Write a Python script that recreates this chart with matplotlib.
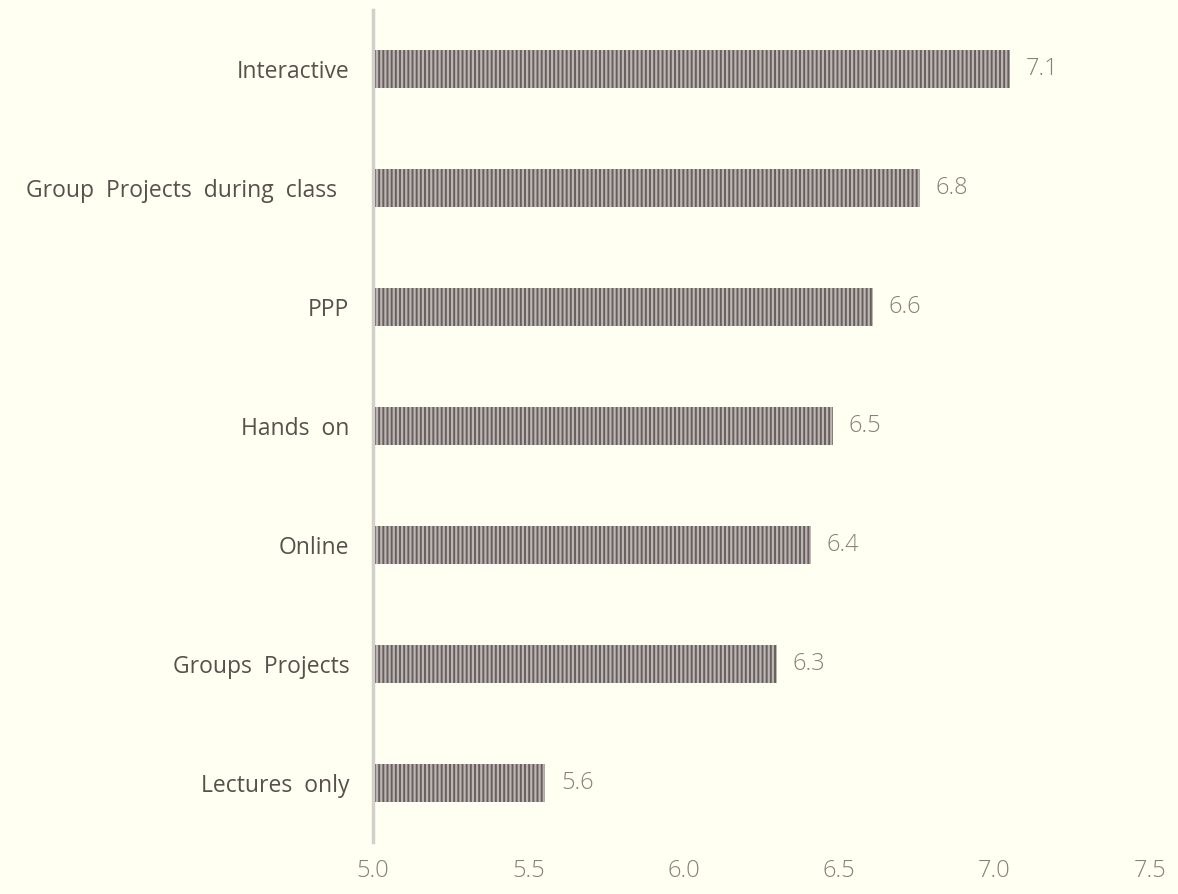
import matplotlib
matplotlib.use("Agg")
import matplotlib.pyplot as plt

categories = ["Lectures  only", "Groups  Projects", "Online", "Hands  on",
              "PPP", "Group  Projects  during  class  ", "Interactive"]
scores = [5.555, 6.30, 6.41, 6.48, 6.61, 6.76, 7.051]
xticks = [5.0, 5.5, 6.0, 6.5, 7.0, 7.5]

bg = "#fffff2"
label_col = "#57504c"
num_col = "#8a807b"

plt.rcParams["font.family"] = ["Open Sans", "DejaVu Sans"]
plt.rcParams["hatch.linewidth"] = 1.6
plt.rcParams["hatch.color"] = "#bcb5b2"

fig = plt.figure(figsize=(11.78, 8.94), dpi=100, facecolor=bg)
ax = fig.add_axes([0.3166, 0.058, 0.976 - 0.3166, 0.931])
ax.set_facecolor(bg)

ypos = range(len(categories))
ax.barh(ypos, [s - 5.0 for s in scores], left=5.0, height=0.32,
        color="#675f5e", edgecolor="#bcb5b2", linewidth=0, hatch="||||")
for y, s in zip(ypos, scores):
    ax.text(s + 0.05, y, f"{s:.1f}", va="center", ha="left", fontsize=17,
            color=num_col, fontweight="light")

ax.set_xlim(5.0, 7.5)
ax.set_ylim(-0.5, 6.5)
ax.set_yticks(list(ypos))
ax.set_yticklabels(categories, fontsize=16.5, color=label_col)
ax.set_xticks(xticks)
ax.set_xticklabels([f"{t:.1f}" for t in xticks], fontsize=17, color=num_col,
                   fontweight="light")
ax.tick_params(axis="both", length=0)
ax.tick_params(axis="y", pad=17)
ax.tick_params(axis="x", pad=12)
for side in ["top", "right", "bottom"]:
    ax.spines[side].set_visible(False)
ax.spines["left"].set_color("#d3cfca")
ax.spines["left"].set_linewidth(2.5)

fig.savefig("out.png", dpi=100, facecolor=bg)
